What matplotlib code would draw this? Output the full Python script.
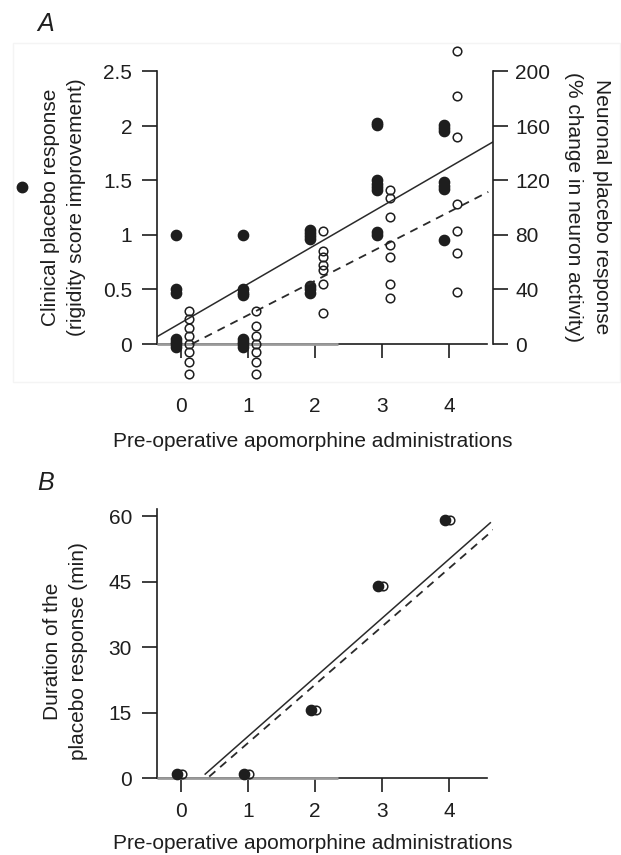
import matplotlib
matplotlib.use('Agg')
import matplotlib.pyplot as plt
from matplotlib.lines import Line2D
from matplotlib.patches import Rectangle
import numpy as np

plt.rcParams['font.family'] = ['Liberation Sans', 'DejaVu Sans']

# ---------------- data ----------------
admin_levels = [0, 1, 2, 3, 4]

# Panel A: clinical placebo response (left axis, filled dots)
clinical_x = [0]*7 + [1]*8 + [2]*7 + [3]*8 + [4]*7
clinical_y = [1.0, 0.5, 0.47, 0.05, 0.02, 0.0, -0.03,
              1.0, 0.5, 0.47, 0.45, 0.05, 0.02, 0.0, -0.03,
              1.05, 1.02, 0.99, 0.96, 0.53, 0.5, 0.47,
              2.03, 2.01, 1.5, 1.47, 1.44, 1.41, 1.03, 1.0,
              2.01, 1.98, 1.95, 1.49, 1.45, 1.42, 0.95]

# Panel A: neuronal placebo response (right axis, open circles, %)
neuronal_x = [0]*8 + [1]*7 + [2]*7 + [3]*7 + [4]*7
neuronal_y = [24, 18, 12, 6, 0, -6, -13, -22,
              24, 13, 6, 0, -6, -13, -22,
              83, 68, 64, 58, 54, 44, 23,
              113, 107, 93, 73, 64, 44, 34,
              215, 182, 152, 103, 83, 67, 38]

# regression lines (intercept, slope, x-start, x-end)
lineA_clinical = (0.195, 0.356, -0.36, 4.66)
lineA_neuronal = (-4.0, 25.2, 0.16, 4.59)

left_ticks_A = [0, 0.5, 1, 1.5, 2, 2.5]
left_ticklabels_A = ['0', '0.5', '1', '1.5', '2', '2.5']
right_ticks_A = [0, 40, 80, 120, 160, 200]

# Panel B: duration of the placebo response (min)
duration_clinical = [1, 1, 15.7, 44, 59]
duration_neuronal = [1, 1, 15.7, 44, 59]
lineB_clinical = (-3.9, 13.5, 0.36, 4.62)
lineB_neuronal = (-5.2, 13.3, 0.42, 4.68)
ticks_B = [0, 15, 30, 45, 60]

# ---------------- layout ----------------
W, H = 621, 855
fig = plt.figure(figsize=(W / 100, H / 100), dpi=100)
INK = '#1e1e1e'
FS_TICK = 15
FS_LAB = 15


def box(l, t, r, b):
    return [l / W, 1 - b / H, (r - l) / W, (b - t) / H]


def fx(px):
    return px / W


def fy(py):
    return 1 - py / H


XLIM = (-0.36, 4.66)
filled_kw = dict(ls='none', marker='o', ms=7.4, color=INK, mec=INK, clip_on=False, zorder=4)
open_kw = dict(ls='none', marker='o', ms=6.2, mfc='none', mec=INK, mew=1.1, clip_on=False, zorder=4)

# faint scan frame around panel A
fig.add_artist(Rectangle((fx(13), fy(382)), fx(620) - fx(13), fy(43) - fy(382),
                         transform=fig.transFigure, fill=False, ec='#f4f4f4', lw=1))

# ---------- Panel A ----------
axA = fig.add_axes(box(157, 40, 493, 385))
axA.set_xlim(XLIM)
pxu = 109.0
axA.set_ylim((344 - 385) / pxu, (344 - 40) / pxu)
axA.patch.set_visible(False)

axA2 = axA.twinx()
axA2.set_ylim(np.array(axA.get_ylim()) * 80)

for sp in ['top', 'right']:
    axA.spines[sp].set_visible(False)
for sp in ['top', 'left', 'bottom']:
    axA2.spines[sp].set_visible(False)

axA.spines['left'].set_bounds(0, 2.5)
axA.spines['bottom'].set_position(('data', 0))
axA.spines['bottom'].set_bounds(-0.36, 4.57)
axA2.spines['right'].set_bounds(0, 200)
for sp in [axA.spines['left'], axA.spines['bottom'], axA2.spines['right']]:
    sp.set_linewidth(1.2)
    sp.set_color(INK)

axA.set_yticks(left_ticks_A)
axA.set_yticklabels(left_ticklabels_A)
axA.set_xticks(admin_levels)
axA.tick_params(axis='y', length=11, width=1.2, pad=7, labelsize=FS_TICK, colors=INK)
axA.tick_params(axis='x', length=10, width=1.2, pad=28, labelsize=FS_TICK, colors=INK)
axA2.set_yticks(right_ticks_A)
axA2.tick_params(axis='y', length=11, width=1.2, pad=5, labelsize=FS_TICK, colors=INK)

# gray zero reference segment
axA.plot([-0.36, 2.34], [0, 0], color='#9a9a9a', lw=2.0, zorder=2.6, solid_capstyle='butt')

xs = np.array(clinical_x, dtype=float) - 0.07
axA.plot(xs, clinical_y, **filled_kw)
xo = np.array(neuronal_x, dtype=float) + 0.12
axA2.plot(xo, neuronal_y, **open_kw)

b0, b1, xa, xb = lineA_clinical
xx = np.array([xa, xb])
axA.plot(xx, b0 + b1 * xx, color='#2a2a2a', lw=1.1, zorder=3)
b0, b1, xa, xb = lineA_neuronal
xx = np.array([xa, xb])
axA2.plot(xx, b0 + b1 * xx, color='#2a2a2a', lw=1.3, ls=(0, (4.5, 3.5)), zorder=3)

fig.text(fx(37), fy(24), 'A', fontsize=18, style='italic', va='center', ha='left', color=INK)
fig.text(fx(51), fy(207), 'Clinical placebo response', rotation=90, fontsize=FS_LAB,
         ha='center', va='center', color=INK)
fig.text(fx(77), fy(207), '(rigidity score improvement)', rotation=90, fontsize=FS_LAB,
         ha='center', va='center', color=INK)
fig.text(fx(602), fy(207), 'Neuronal placebo response', rotation=270, fontsize=FS_LAB,
         ha='center', va='center', color=INK)
fig.text(fx(574), fy(207), '(% change in neuron activity)', rotation=270, fontsize=FS_LAB,
         ha='center', va='center', color=INK)
fig.text(fx(313), fy(441), 'Pre-operative apomorphine administrations', fontsize=FS_LAB,
         ha='center', va='center', color=INK)
fig.add_artist(Line2D([fx(22)], [fy(187)], transform=fig.transFigure, marker='o', ms=7.5,
                      color=INK, ls='none'))

# ---------- Panel B ----------
axB = fig.add_axes(box(157, 500, 493, 795))
axB.set_xlim(XLIM)
pxm = 4.37
axB.set_ylim((778.3 - 795) / pxm, (778.3 - 500) / pxm)
axB.patch.set_visible(False)
for sp in ['top', 'right']:
    axB.spines[sp].set_visible(False)
axB.spines['left'].set_bounds(0, 61.7)
axB.spines['bottom'].set_position(('data', 0))
axB.spines['bottom'].set_bounds(-0.36, 4.57)
for sp in [axB.spines['left'], axB.spines['bottom']]:
    sp.set_linewidth(1.2)
    sp.set_color(INK)
axB.set_yticks(ticks_B)
axB.set_xticks(admin_levels)
axB.tick_params(axis='y', length=11, width=1.2, pad=7, labelsize=FS_TICK, colors=INK)
axB.tick_params(axis='x', length=10, width=1.2, pad=7, labelsize=FS_TICK, colors=INK)

axB.plot([-0.36, 2.34], [0, 0], color='#9a9a9a', lw=2.0, zorder=2.6, solid_capstyle='butt')
axB.plot(np.array(admin_levels) + 0.02, duration_neuronal, **open_kw)
axB.plot(np.array(admin_levels) - 0.06, duration_clinical, **filled_kw)

b0, b1, xa, xb = lineB_clinical
xx = np.array([xa, xb])
axB.plot(xx, b0 + b1 * xx, color='#2a2a2a', lw=1.1, zorder=3)
b0, b1, xa, xb = lineB_neuronal
xx = np.array([xa, xb])
axB.plot(xx, b0 + b1 * xx, color='#2a2a2a', lw=1.3, ls=(0, (4.5, 3.5)), zorder=3)

fig.text(fx(37), fy(483), 'B', fontsize=18, style='italic', va='center', ha='left', color=INK)
fig.text(fx(52), fy(651), 'Duration of the', rotation=90, fontsize=FS_LAB,
         ha='center', va='center', color=INK)
fig.text(fx(79), fy(651), 'placebo response (min)', rotation=90, fontsize=FS_LAB,
         ha='center', va='center', color=INK)
fig.text(fx(313), fy(843), 'Pre-operative apomorphine administrations', fontsize=FS_LAB,
         ha='center', va='center', color=INK)

fig.savefig('out.png', dpi=100)
